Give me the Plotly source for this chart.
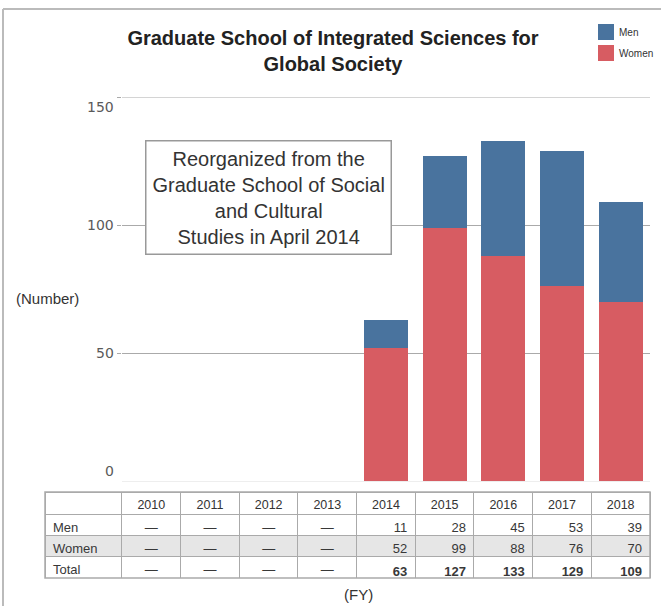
import plotly.graph_objects as go

years = [2010, 2011, 2012, 2013, 2014, 2015, 2016, 2017, 2018]
men = [None, None, None, None, 11, 28, 45, 53, 39]
women = [None, None, None, None, 52, 99, 88, 76, 70]
total = [None, None, None, None, 63, 127, 133, 129, 109]
y_ticks = [0, 50, 100, 150]
series_names = ["Men", "Women"]

title_text = "<b>Graduate School of Integrated Sciences for<br>Global Society</b>"
note_text = "Reorganized from the<br>Graduate School of Social<br>and Cultural<br>Studies in April 2014"

MEN_C = "#49739e"
WOMEN_C = "#d75c62"
FONT = "Liberation Sans, Arial, sans-serif"

W, H = 661, 606
ML, MR, MT, MB = 45, 0, 97, 28
PW = W - ML - MR
PH = H - MT - MB


def px(x):
    return (x - ML) / PW


def py(y):
    return (PH - (y - MT)) / PH


fig = go.Figure()
fig.add_trace(go.Bar(x=years, y=women, name="Women", marker=dict(color=WOMEN_C, line=dict(width=0)),
                     width=0.75, showlegend=False))
fig.add_trace(go.Bar(x=years, y=men, name="Men", marker=dict(color=MEN_C, line=dict(width=0)),
                     width=0.75, showlegend=False))

# table
def fmt(v, bold=False):
    if v is None:
        return "—"
    return f"<b>{v}</b>" if bold else str(v)

header_vals = [""] + [str(y) for y in years]
cols = [["Men", "Women", "Total"]]
for i in range(len(years)):
    cols.append([fmt(men[i]), fmt(women[i]), fmt(total[i], bold=True)])
row_fill = ["white", "#e6e6e6", "white"]
aligns = ["left"] + ["center" if m is None else "right" for m in men]

TABLE_R = px(650)
fig.add_trace(go.Table(
    domain=dict(x=[0, TABLE_R], y=[0, py(578 - 86)]),
    columnwidth=[77] + [58.7] * len(years),
    header=dict(values=header_vals, align="center", height=22,
                fill=dict(color="white"), line=dict(color="#aaaaaa", width=1),
                font=dict(family=FONT, size=12.5, color="#333333")),
    cells=dict(values=cols, align=aligns, height=21,
               fill=dict(color=[row_fill] * (len(years) + 1)),
               line=dict(color="#aaaaaa", width=1),
               font=dict(family=FONT, size=13, color="#383838")),
))

annotations = []
for t in y_ticks:
    shift = -10 if t == y_ticks[-1] else (10 if t == y_ticks[0] else 0)
    annotations.append(dict(x=0, xref="x domain", y=t, yref="y", text=str(t), showarrow=False,
                            xanchor="right", yanchor="middle", xshift=-6, yshift=shift,
                            font=dict(family="DejaVu Sans, sans-serif", size=14, color="#5a5a5a")))
annotations.append(dict(x=px(47), xref="paper", y=py(298), yref="paper",
                        text="(Number)", showarrow=False, xanchor="center", yanchor="middle",
                        font=dict(family=FONT, size=15, color="#333333")))
annotations.append(dict(x=px(358), xref="paper", y=py(594), yref="paper",
                        text="(FY)", showarrow=False, xanchor="center", yanchor="middle",
                        font=dict(family=FONT, size=15, color="#333333")))
annotations.append(dict(x=px(268), xref="paper", y=py(197), yref="paper",
                        text=note_text, showarrow=False, xanchor="center", yanchor="middle",
                        align="center", bordercolor="#999999", borderwidth=1.5, borderpad=6,
                        bgcolor="white",
                        font=dict(family=FONT, size=20, color="#333333")))

shapes = [
    dict(type="line", xref="paper", yref="paper", x0=px(3), x1=px(3),
         y0=py(9), y1=py(606), line=dict(color="#bbbbbb", width=2)),
    dict(type="line", xref="paper", yref="paper", x0=px(3), x1=px(661),
         y0=py(9), y1=py(9), line=dict(color="#bbbbbb", width=2)),
    dict(type="rect", xref="paper", yref="paper", x0=0, x1=TABLE_R, y0=0, y1=py(578 - 86),
         line=dict(color="#aaaaaa", width=1.5)),
    dict(type="line", xref="x domain", yref="y", x0=0, x1=1, y0=y_ticks[-1], y1=y_ticks[-1],
         line=dict(color="#aaaaaa", width=1), layer="below"),
]

# legend (drawn manually so it does not push the plot margins)
legend_colors = {"Men": MEN_C, "Women": WOMEN_C}
for i, name in enumerate(series_names):
    top = 24 + i * 21
    shapes.append(dict(type="rect", xref="paper", yref="paper", x0=px(598), x1=px(614),
                       y0=py(top + 16), y1=py(top), fillcolor=legend_colors[name],
                       line=dict(color=legend_colors[name], width=0)))
    annotations.append(dict(x=px(617), xref="paper", y=py(top + 8), yref="paper", text=name,
                            showarrow=False, xanchor="left", yanchor="middle",
                            font=dict(family=FONT, size=10, color="#333333")))

fig.update_layout(
    width=W, height=H, autosize=False,
    margin=dict(l=ML, r=MR, t=MT, b=MB),
    paper_bgcolor="white", plot_bgcolor="white",
    barmode="stack", showlegend=False,
    title=dict(text=title_text, x=333 / W, xanchor="center", y=1 - 45 / H, yanchor="middle",
               font=dict(family=FONT, size=20, color="#222222")),
    xaxis=dict(domain=[px(122), px(650)], range=[years[0] - 0.5, years[-1] + 0.5],
               showticklabels=False, showgrid=False, zeroline=False,
               showline=True, linecolor="#eeeeee", linewidth=1),
    yaxis=dict(domain=[py(481), 1], range=[0, 150], tickvals=y_ticks[1:],
               showticklabels=False, showgrid=True, gridcolor="#aaaaaa", gridwidth=1,
               zeroline=False, ticks="outside", ticklen=4, tickcolor="#aaaaaa"),
    annotations=annotations,
    shapes=shapes,
)

post = ("document.body.style.margin='0';document.body.style.padding='0';"
        "document.body.style.overflow='hidden';"
        "var gd=document.getElementById('{plot_id}');"
        "Plotly.relayout(gd,{width:661,height:606});")

fig.write_html("out.html", config={"responsive": False, "displayModeBar": False}, post_script=post)
